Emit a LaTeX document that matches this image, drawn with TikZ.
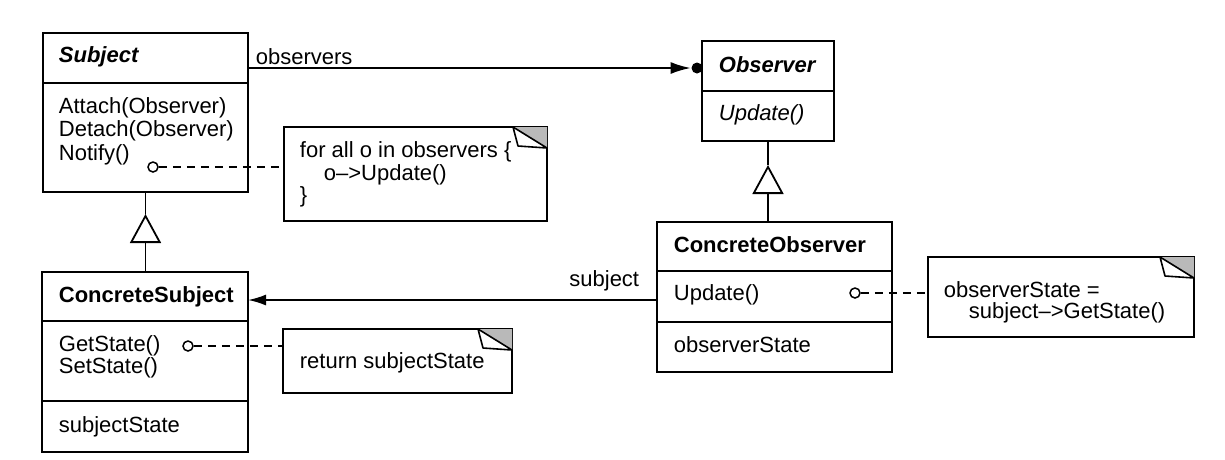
\documentclass[tikz,border=0pt]{standalone}
\usepackage{fontspec}
\setmainfont{Liberation Sans}
\usetikzlibrary{arrows.meta}
\newcommand\dogear[1]{%
  \fill[gray!55] ([shift={(-34,0)}]#1.north east) -- (#1.north east) -- ([shift={(0,21)}]#1.north east) -- cycle;
  \filldraw[fill=white, line width=1.6pt, line join=round] ([shift={(-34,0)}]#1.north east) -- ([shift={(-29,19)}]#1.north east) -- ([shift={(0,21)}]#1.north east) -- cycle;
}
\begin{document}
\begin{tikzpicture}[x=1pt,y=-1pt,line width=1.8pt,
  box/.style={draw, rectangle, inner sep=0pt, outer sep=0pt, line width=1.8pt},
  txt/.style={anchor=west, inner sep=0pt, font=\fontsize{22}{24}\selectfont},
  hook/.style={circle, draw, fill=white, minimum size=10pt, inner sep=0pt, line width=1.5pt},
  dot/.style={circle, fill=black, minimum size=11pt, inner sep=0pt},
  noteline/.style={dash pattern=on 8pt off 6pt, line width=1.6pt},
  gen/.style={-{Triangle[open,length=29pt,width=31pt,line width=1.8pt]}}]
\useasboundingbox (0,0) rectangle (1225,459);

% ---------- class boxes ----------
\node[box, minimum width=205pt, minimum height=159pt] (subj) at (145.5,112.5) {};
\draw (subj.west |- 0,83) -- (subj.east |- 0,83);
\node[box, minimum width=206pt, minimum height=180pt] (cs) at (145,362) {};
\draw (cs.west |- 0,321) -- (cs.east |- 0,321);
\draw (cs.west |- 0,401) -- (cs.east |- 0,401);
\node[box, minimum width=132pt, minimum height=100pt] (obs) at (768,91) {};
\draw (obs.west |- 0,91) -- (obs.east |- 0,91);
\node[box, minimum width=235pt, minimum height=150pt] (co) at (774.5,297) {};
\draw (co.west |- 0,271) -- (co.east |- 0,271);
\draw (co.west |- 0,322) -- (co.east |- 0,322);

% ---------- notes ----------
\node[box, minimum width=263pt, minimum height=94pt] (n1) at (415.5,174) {};
\dogear{n1}
\node[box, minimum width=229pt, minimum height=64pt] (n2) at (397.5,361) {};
\dogear{n2}
\node[box, minimum width=266pt, minimum height=80pt] (n3) at (1061,297) {};
\dogear{n3}

% ---------- texts ----------
\node[txt, font=\fontsize{22}{24}\selectfont\bfseries\itshape] (tsubj) at (58,57) {Subject};
\node[txt] (ta) at (58,108) {Attach(Observer)};
\node[txt] (td) at (58,131) {Detach(Observer)};
\node[txt] (tn) at (58,155) {Notify()};

\node[txt, font=\fontsize{22}{24}\selectfont\bfseries] (tcs) at (58,297) {ConcreteSubject};
\node[txt] (tg) at (58,346) {GetState()};
\node[txt] (ts) at (58,368) {SetState()};
\node[txt] (tss) at (58,427) {subjectState};

\node[txt, font=\fontsize{22}{24}\selectfont\bfseries\itshape] (tobs) at (718,65) {Observer};
\node[txt, font=\fontsize{22}{24}\selectfont\itshape] (tu) at (718,115) {Update()};

\node[txt, font=\fontsize{22}{24}\selectfont\bfseries] (tco) at (673,245) {ConcreteObserver};
\node[txt] (tcu) at (673,295) {Update()};
\node[txt] (tos) at (673,345) {observerState};

\node[txt] (n1a) at (299,152) {for all o in observers \{};
\node[txt] (n1b) at (323,175) {o–>Update()};
\node[txt] (n1c) at (299,197) {\}};
\node[txt] (n2a) at (299,363) {return subjectState};
\node[txt] (n3a) at (943,290) {observerState =};
\node[txt] (n3b) at (968,313) {subject–>GetState()};

% ---------- generalization ----------
\coordinate (t1) at (145.5,214);
\draw[gen] (cs.north -| t1) -- (t1);
\draw (t1) -- (subj.south);
\coordinate (t2) at (768,165);
\draw[gen] (co.north -| t2) -- (t2);
\draw (t2) -- (obs.south);

% ---------- associations ----------
\node[dot] (dt) at (697,68) {};
\draw[-{Latex[length=20pt,width=12pt]}] (subj.east |- dt) -- (dt.west);
\node[txt] (lobs) at (255,57) {observers};

\coordinate (sl) at (600,300);
\draw[-{Latex[length=18pt,width=11pt]}] (co.west |- sl) -- (cs.east |- sl);
\node[txt, anchor=east] (lsub) at (640,281) {subject};

% ---------- note links ----------
\node[hook] (h1) at (153,167) {};
\draw[noteline] (h1.east) -- (n1.west |- h1);
\node[hook] (h2) at (188,346) {};
\draw[noteline] (h2.east) -- (n2.west |- h2);
\node[hook] (h3) at (855,293) {};
\draw[noteline] (h3.east) -- (n3.west |- h3);
\end{tikzpicture}
\end{document}
